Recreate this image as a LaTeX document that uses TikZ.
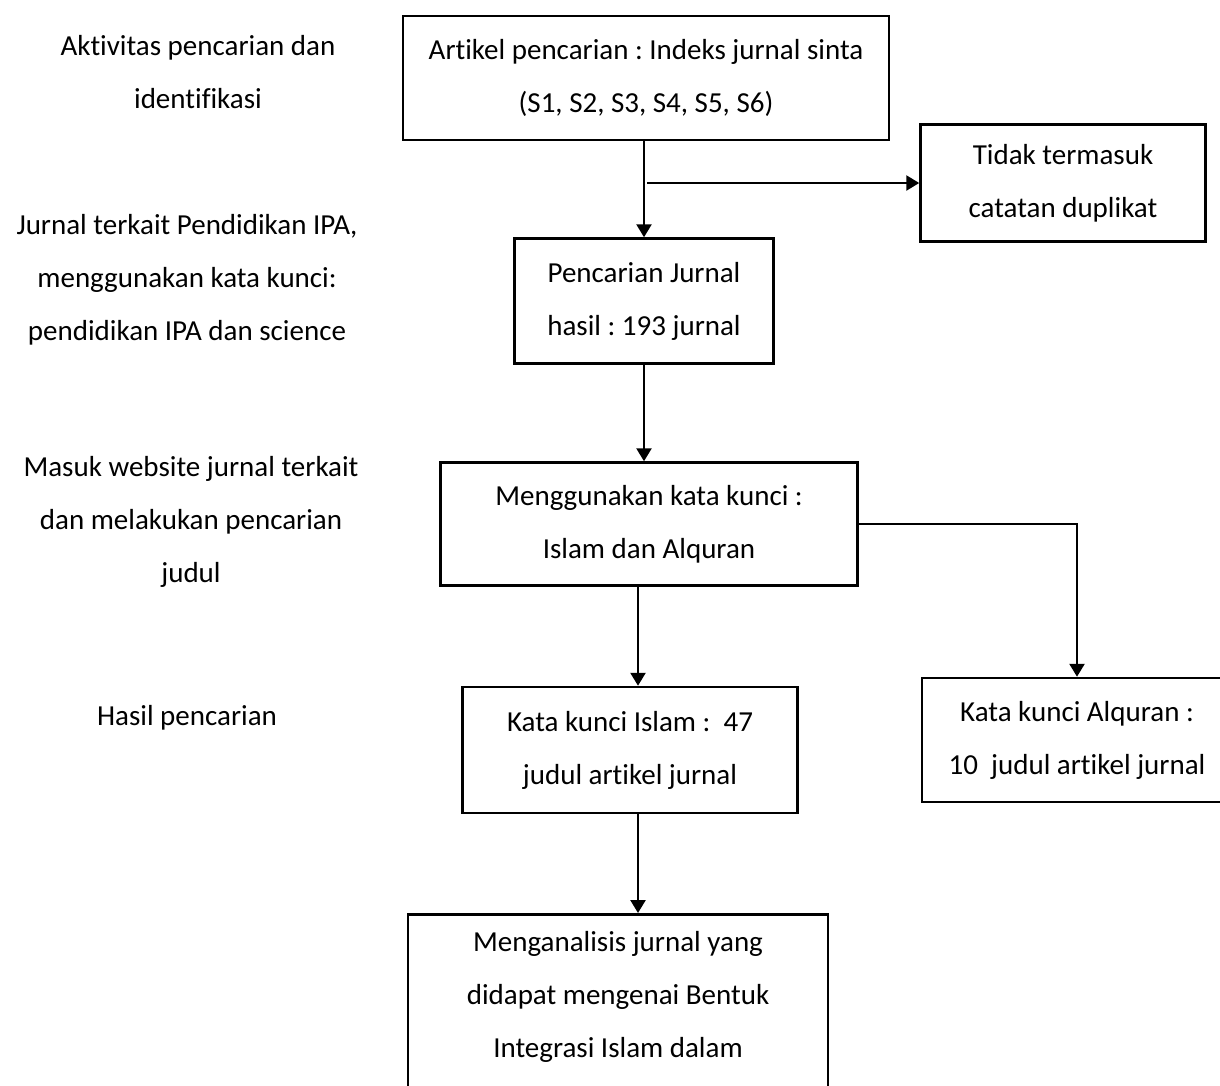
\documentclass[tikz,border=0pt]{standalone}
\usepackage{fontspec}
\setmainfont{Carlito}[Ligatures=NoCommon]
\usetikzlibrary{arrows.meta}
\tikzset{
  kotak/.style={draw, line width=2.5pt, inner sep=0pt, align=center},
  ket/.style={align=center, anchor=base},
  panah/.style={line width=2.5pt, -{Triangle[length=13pt,width=15pt]}}
}
\frenchspacing
\begin{document}
\begin{tikzpicture}[x=1pt,y=-1pt,font=\fontsize{29}{53}\selectfont]
\useasboundingbox (0,0) rectangle (1220,1085);
\clip (0,0) rectangle (1220,1085);
% keterangan kiri (base = baris terakhir)
\node[ket] (k1) at (198,108) {Aktivitas pencarian dan\\identifikasi};
\node[ket] (k2) at (187,340) {Jurnal terkait Pendidikan IPA,\\menggunakan kata kunci:\\pendidikan IPA dan science};
\node[ket] (k3) at (191,582) {Masuk website jurnal terkait\\dan melakukan pencarian\\judul};
\node[ket] (k4) at (187,725) {Hasil pencarian};
% kotak alur
\node[kotak, minimum width=486, minimum height=124] (b1) at (646,78) {Artikel pencarian : Indeks jurnal sinta\\(S1, S2, S3, S4, S5, S6)};
\node[kotak, minimum width=285, minimum height=117] (b2) at (1063,183) {Tidak termasuk\\catatan duplikat};
\node[kotak, minimum width=259, minimum height=125] (b3) at (644,301) {Pencarian Jurnal\\hasil : 193 jurnal};
\node[kotak, minimum width=417, minimum height=123] (b4) at (649,524) {Menggunakan kata kunci :\\Islam dan Alquran};
\node[kotak, minimum width=335, minimum height=126] (b5) at (630,750) {Kata kunci Islam :~ 47\\judul artikel jurnal};
\node[kotak, minimum width=310, minimum height=124] (b6) at (1077,740) {Kata kunci Alquran :\\10~ judul artikel jurnal};
\node[kotak, anchor=north, minimum width=420, text height=143pt, text depth=60pt] (b7) at (618,913) {Menganalisis jurnal yang\\didapat mengenai Bentuk\\Integrasi Islam dalam};
% panah
\coordinate (dup) at ([xshift=3pt]b2.west -| b3.north);
\draw[panah] (b1.south -| b3.north) -- (b3.north);
\draw[panah] (dup) -- (b2.west);
\draw[panah] (b3.south) -- (b3.south |- b4.north);
\draw[panah] ([xshift=-11pt]b4.south) -- ([xshift=-11pt]b4.south |- b5.north);
\draw[panah] ([xshift=8pt]b5.south) -- ([xshift=8pt]b5.south |- b7.north);
\draw[panah] (b4.east) -| (b6.north);
\end{tikzpicture}
\end{document}
